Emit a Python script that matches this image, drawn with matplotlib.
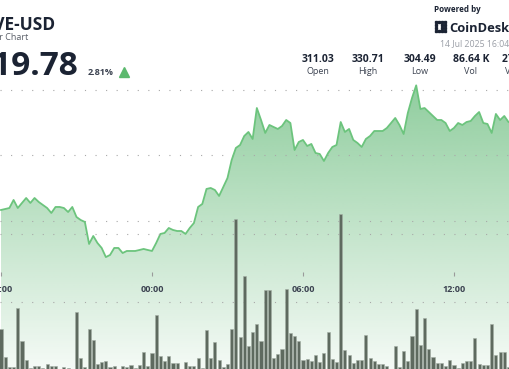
import numpy as np
import matplotlib
matplotlib.use("Agg")
import matplotlib.pyplot as plt
from matplotlib.colors import to_rgb
from matplotlib.patches import Polygon, Rectangle

plt.rcParams['font.family'] = ['Open Sans', 'DejaVu Sans']

# AAVE-USD, 10 minute steps starting 18:00
prices = [311.68, 311.83, 311.98, 313.21, 311.98, 312.75, 313.51, 312.75, 313.51, 312.90,
          312.44, 311.98, 311.22, 312.14, 312.14, 311.98, 311.37, 312.14, 310.61, 310.15,
          309.85, 306.49, 307.71, 306.64, 305.88, 304.49, 304.81, 305.88, 305.88, 305.11,
          305.42, 305.42, 305.42, 305.57, 305.73, 305.57, 305.42, 306.64, 308.02, 308.17,
          308.93, 308.63, 308.47, 308.47, 308.02, 308.93, 309.69, 312.14, 312.60, 314.89,
          315.04, 314.73, 313.82, 315.19, 316.56, 319.31, 321.15, 321.60, 322.98, 323.59,
          322.52, 327.25, 325.42, 323.44, 324.66, 324.35, 324.05, 324.50, 325.42, 324.96,
          320.84, 322.06, 322.37, 321.45, 321.76, 320.38, 320.23, 319.16, 320.38, 321.30,
          321.60, 325.11, 323.59, 324.05, 322.37, 321.91, 321.30, 322.52, 322.98, 323.74,
          323.74, 323.74, 324.20, 324.96, 325.73, 324.66, 323.28, 326.49, 328.78, 330.71,
          327.10, 327.25, 326.64, 326.03, 325.42, 325.42, 324.96, 323.74, 324.20, 324.96,
          324.66, 325.11, 325.27, 326.03, 326.64, 324.96, 324.81, 323.44, 326.34, 325.42,
          326.03, 325.11, 325.00]

volumes = [599, 191, 44, 44, 916, 431, 147, 29, 63, 59,
           29, 88, 63, 63, 15, 44, 29, 7, 857, 181,
           44, 603, 437, 84, 118, 132, 44, 63, 19, 54,
           44, 78, 34, 78, 260, 59, 254, 809, 206, 132,
           201, 107, 99, 7, 118, 63, 59, 181, 34, 584,
           172, 412, 147, 40, 88, 603, 2221, 481, 1387, 357,
           559, 672, 426, 1176, 1176, 181, 235, 304, 1187, 549,
           504, 422, 147, 166, 132, 216, 122, 254, 554, 166,
           122, 2290, 299, 216, 107, 147, 151, 519, 172, 128,
           88, 88, 59, 7, 349, 49, 275, 132, 500, 893,
           368, 769, 309, 196, 103, 103, 54, 143, 69, 25,
           107, 132, 132, 475, 88, 69, 74, 672, 216, 269,
           265, 49, 191]

tick_pos = [0, 36, 72, 108]
tick_labels = ['18:00', '00:00', '06:00', '12:00']

price_grid = [310, 320, 330]
vol_grid = [1000, 2000]

stat_values = ['311.03', '330.71', '304.49', '86.64 K', '27.61 M']
stat_labels = ['Open', 'High', 'Low', 'Vol', 'Vol USD']

W, H = 510, 369
fig = plt.figure(figsize=(W / 100, H / 100), dpi=100)
fig.patch.set_facecolor('white')


def fx(x):
    return x / W


def fy(y):
    return 1 - y / H


idx = np.arange(len(prices))
xlim = (-1 / 4.194, (W - 1) / 4.194)
green = '#4caf63'

# price panel
ax = fig.add_axes([0, 0, 1, 1])
ax.set_xlim(*xlim)
ylo, yhi = 287.40, 343.74
ax.set_ylim(ylo, yhi)
ax.axis('off')

grad = np.zeros((256, 1, 4))
grad[..., :3] = to_rgb(green)
grad[..., 3] = np.linspace(0.62, 0.06, 256).reshape(-1, 1)
im = ax.imshow(grad, extent=[xlim[0], xlim[1], ylo, max(prices)],
               aspect='auto', origin='upper', zorder=1, interpolation='bilinear')
verts = np.column_stack([np.r_[idx[0], idx, idx[-1]],
                         np.r_[ylo, prices, ylo]])
clip = Polygon(verts, closed=True, transform=ax.transData)
im.set_clip_path(clip)
ax.set_xlim(*xlim)
ax.set_ylim(ylo, yhi)

for g in price_grid:
    ax.axhline(g, color='#a8a8a8', lw=0.8, ls=(0, (1, 8.5)), zorder=2)

ax.plot(idx, prices, color='#6cc47d', lw=1.3, zorder=4, solid_joinstyle='round')

# volume panel
axv = fig.add_axes([0, 0, 1, 1])
axv.patch.set_alpha(0)
axv.set_xlim(*xlim)
axv.set_ylim(14.7, 5441)
axv.axis('off')
for g in vol_grid:
    axv.axhline(g, color='#a8a8a8', lw=0.8, ls=(0, (1, 8.5)), zorder=1)
axv.bar(np.arange(len(volumes)), volumes, width=0.74, color='#5e6a5f',
        edgecolor='#a3aea4', linewidth=0.4, zorder=3)

# time axis
tr = ax.get_xaxis_transform()
ax.vlines(tick_pos, fy(276), fy(272), transform=tr, color='#9a9a9a', lw=0.8, zorder=5)
for p, lab in zip(tick_pos, tick_labels):
    ax.text(p, fy(292), lab, transform=tr, ha='center', va='baseline',
            fontsize=6.5, fontweight='bold', color='#3b4250', zorder=6)

# header left
fig.text(fx(55), fy(29.5), 'AAVE-USD', ha='right', va='baseline',
         fontsize=12.5, fontweight='bold', color='#1b2333')
fig.text(fx(28.5), fy(40), '24 Hour Chart', ha='right', va='baseline',
         fontsize=6.5, color='#5a5f68')
fig.text(fx(78), fy(75), '319.78', ha='right', va='baseline',
         fontsize=24, fontweight='bold', color='#1b2333')
fig.text(fx(88), fy(75), '2.81%', ha='left', va='baseline',
         fontsize=6.5, fontweight='bold', color='#3b4250')
fig.lines.append(plt.Line2D([fx(124.5)], [fy(72.3)], marker='^', markersize=6.5,
                            color='#5cb96e', transform=fig.transFigure))

# header right
fig.text(fx(434), fy(11.5), 'Powered by', ha='left', va='baseline',
         fontsize=5.8, fontweight='bold', color='#1b2333')
fig.text(fx(449), fy(31.5), 'CoinDesk', ha='left', va='baseline',
         fontsize=9.3, fontweight='bold', color='#1b2333')
# small dotted logo mark
for (cx, cy) in [(435, 21), (438, 21), (441, 21), (435, 24), (435, 27), (435, 30),
                 (438, 30), (441, 30), (441, 24), (444, 24), (441, 27), (444, 27),
                 (444, 21), (444, 30)]:
    fig.patches.append(Rectangle((fx(cx), fy(cy + 2)), 2 / W, 2 / H,
                                 transform=fig.transFigure, color='#1b2333'))
fig.text(fx(440), fy(46.5), '14 Jul 2025 16:04', ha='left', va='baseline',
         fontsize=6.3, color='#9a9ea6')

stat_x = [318, 368, 420, 471, 522]
for sx, v, lab in zip(stat_x, stat_values, stat_labels):
    fig.text(fx(sx), fy(62), v, ha='center', va='baseline',
             fontsize=7.5, fontweight='bold', color='#1b2333')
    fig.text(fx(sx), fy(74), lab, ha='center', va='baseline',
             fontsize=6.5, color='#3b4250')

fig.savefig('out.png', dpi=100)
